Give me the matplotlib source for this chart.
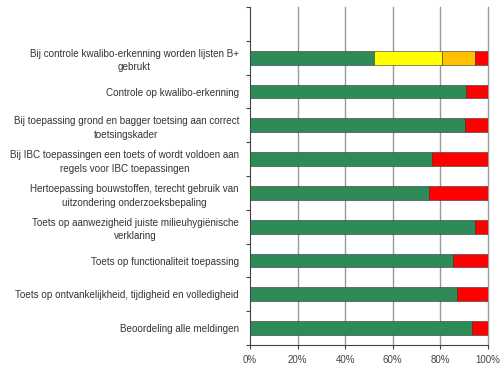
import matplotlib
matplotlib.use("Agg")
import matplotlib.pyplot as plt
import numpy as np

categories = [
    "Bij controle kwalibo-erkenning worden lijsten B+\ngebrukt",
    "Controle op kwalibo-erkenning",
    "Bij toepassing grond en bagger toetsing aan correct\ntoetsingskader",
    "Bij IBC toepassingen een toets of wordt voldoen aan\nregels voor IBC toepassingen",
    "Hertoepassing bouwstoffen, terecht gebruik van\nuitzondering onderzoeksbepaling",
    "Toets op aanwezigheid juiste milieuhygiënische\nverklaring",
    "Toets op functionaliteit toepassing",
    "Toets op ontvankelijkheid, tijdigheid en volledigheid",
    "Beoordeling alle meldingen",
]
green = [52.2, 90.6, 90.4, 76.5, 75.2, 94.6, 85.2, 86.8, 93.1]
yellow = [28.5, 0, 0, 0, 0, 0, 0, 0, 0]
orange = [13.8, 0, 0, 0, 0, 0, 0, 0, 0]
red = [100 - g - y - o for g, y, o in zip(green, yellow, orange)]

xticks = [0, 20, 40, 60, 80, 100]
xticklabels = ["0%", "20%", "40%", "60%", "80%", "100%"]

plt.rcParams['font.family'] = ['Liberation Sans', 'DejaVu Sans']
fig = plt.figure(figsize=(5, 3.69), dpi=100)
ax = fig.add_axes([0.5, 0.065, 0.476, 0.916])

n = len(categories)
ypos = np.arange(n)[::-1]  # first category at top (slot 8), empty slot 9
h = 0.41
ec = "#333333"
lw = 0.4
left = np.zeros(n)
for vals, col in [(green, "#2E8B57"), (yellow, "#FFFF00"), (orange, "#FFC000"), (red, "#FF0000")]:
    v = np.array(vals)
    mask = v > 0
    ax.barh(ypos[mask], v[mask], left=left[mask], height=h, color=col,
            edgecolor=ec, linewidth=lw, zorder=3)
    left = left + v

ax.set_xlim(0, 100)
ax.set_ylim(-0.5, n + 0.5)
for xv in xticks[1:]:
    ax.axvline(xv, color="#999999", linewidth=1.0, zorder=0, clip_on=False)
ax.set_xticks(xticks)
ax.set_xticklabels(xticklabels, fontsize=7, color="#444444")
ax.set_yticks(ypos)
ax.set_yticklabels(categories, fontsize=7.1, color="#333333",
                   multialignment="center", linespacing=1.45)
ax.tick_params(axis="y", length=0, pad=8)
ax.set_yticks(np.arange(-0.5, n + 1, 1.0), minor=True)
ax.tick_params(axis="y", which="minor", length=3, width=0.8, color="#444444", direction="out")
ax.tick_params(axis="x", length=3, width=0.8, color="#444444", direction="out", pad=4)
for s in ["top", "right"]:
    ax.spines[s].set_visible(False)
ax.spines["left"].set_color("#444444")
ax.spines["bottom"].set_color("#444444")
ax.spines["left"].set_linewidth(0.8)
ax.spines["bottom"].set_linewidth(0.8)

fig.savefig("out.png", dpi=100)
